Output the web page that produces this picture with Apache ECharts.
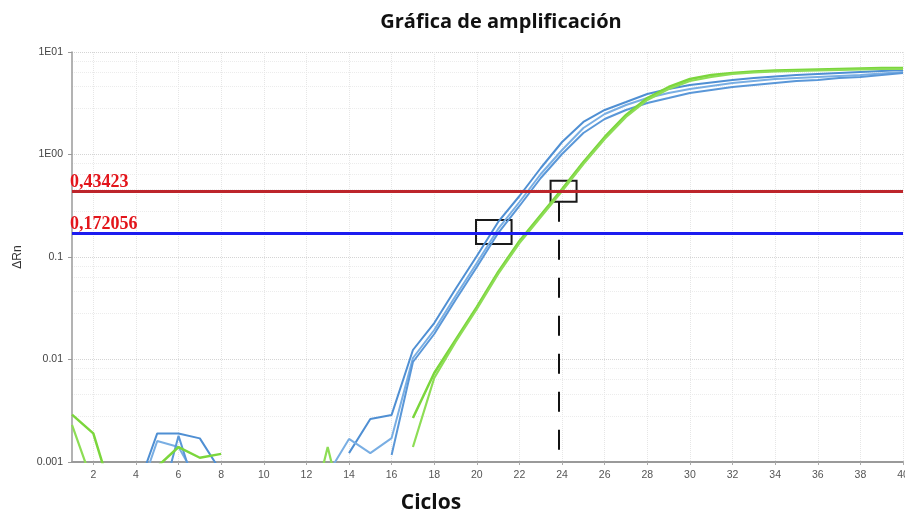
<!DOCTYPE html>
<html>
<head>
<meta charset="utf-8">
<script src="https://cdn.jsdelivr.net/npm/echarts@6/dist/echarts.min.js"></script>
<style>
  html, body { margin: 0; padding: 0; background: #ffffff; }
  #chart { width: 905px; height: 513px; }
</style>
</head>
<body>
<div id="chart"></div>
<script>
// Amplification plot (qPCR): ΔRn per cycle on a log scale.
const cycles = [1, 2, 3, 4, 5, 6, 7, 8, 9, 10, 11, 12, 13, 14, 15, 16, 17, 18, 19, 20,
                21, 22, 23, 24, 25, 26, 27, 28, 29, 30, 31, 32, 33, 34, 35, 36, 37, 38, 39, 40];

// Blue wells (earlier Ct)
const blueA = [null, null, null, 0.0005, 0.0019, 0.0019, 0.0017, 0.0008, null, null,
               null, null, null, 0.00122, 0.00263, 0.00288, 0.01238, 0.0227, 0.04873, 0.1023,
               0.2196, 0.3937, 0.7385, 1.324, 2.076, 2.718, 3.252, 3.893, 4.355, 4.764,
               5.04, 5.331, 5.576, 5.768, 5.965, 6.101, 6.239, 6.381, 6.525, 6.673];
const blueB = [null, null, null, 0.0004, 0.0016, 0.0014, 0.0006, null, null, null,
               null, null, 0.00076, 0.00168, 0.00122, 0.00171, 0.01034, 0.0194, 0.04164, 0.08737,
               0.1876, 0.344, 0.6453, 1.106, 1.814, 2.484, 3.04, 3.557, 3.981, 4.355,
               4.659, 4.984, 5.213, 5.453, 5.576, 5.703, 5.834, 5.965, 6.169, 6.381];
const blueC = [null, null, null, null, 0.0003, 0.0018, 0.0004, null, null, null,
               null, null, null, null, null, 0.00117, 0.00945, 0.01774, 0.03806, 0.07986,
               0.1714, 0.3145, 0.5899, 1.011, 1.621, 2.22, 2.718, 3.179, 3.557, 3.981,
               4.259, 4.555, 4.764, 4.984, 5.213, 5.331, 5.576, 5.703, 5.965, 6.239];

// Green wells (later Ct)
const greenA = [0.0029, 0.0019, 0.0004, 0.0005, 0.0009, 0.0014, 0.0011, 0.0012, null, null,
                null, null, null, null, null, null, 0.002687, 0.007385, 0.0155, 0.03252,
                0.07141, 0.1432, 0.2569, 0.4607, 0.8449, 1.482, 2.429, 3.557, 4.555, 5.453,
                5.965, 6.239, 6.453, 6.599, 6.673, 6.748, 6.824, 6.902, 6.979, 6.979];
const greenB = [0.0023, 0.0006, null, null, null, null, null, null, null, null,
                null, 0.0002, 0.0014, 0.0002, null, null, 0.0014, 0.006601, 0.01482, 0.0311,
                0.06826, 0.1369, 0.2455, 0.4405, 0.8078, 1.416, 2.322, 3.401, 4.355, 5.213,
                5.703, 6.101, 6.31, 6.453, 6.525, 6.599, 6.673, 6.748, 6.824, 6.824];

// Thresholds
const thresholdRed = 0.43423;
const thresholdBlue = 0.172056;

// Ct marker for the green wells and the highlighted crossings
const ctGreen = 23.85;
const boxBlue = { x: [19.96, 21.63], y: [0.2296, 0.1339] };
const boxRed = { x: [23.46, 24.68], y: [0.5551, 0.3463] };

const xTickLabels = [2, 4, 6, 8, 10, 12, 14, 16, 18, 20, 22, 24, 26, 28, 30, 32, 34, 36, 38, 40];
const yTickLabels = { '10': '1E01', '1': '1E00', '0.1': '0.1', '0.01': '0.01', '0.001': '0.001' };

function pts(vals) {
  return cycles.map((c, i) => [c, vals[i] == null ? '-' : vals[i]]);
}
function fmtComma(v) {
  return String(v).replace('.', ',');
}

function curve(name, vals, color, width) {
  return {
    name: name, type: 'line', data: pts(vals), showSymbol: false, smooth: false,
    clip: true, silent: true,
    lineStyle: { color: color, width: width }, z: 3
  };
}

const thresholdLabel = {
  show: true, position: 'insideStartTop', distance: [-2, 0],
  color: '#e3151b', fontFamily: 'Liberation Serif', fontWeight: 'bold', fontSize: 18,
  formatter: p => fmtComma(p.value)
};

const series = [
  curve('A1', blueA, '#4f8fd3', 2),
  curve('A2', blueB, '#79aee3', 2),
  curve('A3', blueC, '#5a97d8', 2),
  curve('B1', greenA, '#7bd63c', 2.5),
  curve('B2', greenB, '#8ddd55', 2.2),
  {
    name: 'marks', type: 'line', data: [], silent: true, z: 5,
    markLine: {
      symbol: ['none', 'none'], silent: true, animation: false, precision: 6,
      data: [
        { yAxis: thresholdRed, lineStyle: { color: '#bd252b', width: 3, type: 'solid' }, label: thresholdLabel },
        { yAxis: thresholdBlue, lineStyle: { color: '#1c1cf0', width: 3, type: 'solid' }, label: thresholdLabel },
        [
          { coord: [ctGreen, boxRed.y[1]], lineStyle: { color: '#111', width: 2, type: [20, 18] }, label: { show: false } },
          { coord: [ctGreen, 0.001] }
        ]
      ]
    },
    markArea: {
      silent: true,
      itemStyle: { color: 'rgba(0,0,0,0)', borderColor: '#1a1a1a', borderWidth: 2 },
      data: [
        [{ coord: [boxBlue.x[0], boxBlue.y[0]] }, { coord: [boxBlue.x[1], boxBlue.y[1]] }],
        [{ coord: [boxRed.x[0], boxRed.y[0]] }, { coord: [boxRed.x[1], boxRed.y[1]] }]
      ]
    }
  }
];

const chart = echarts.init(document.getElementById('chart'), null, { renderer: 'canvas' });
chart.setOption({
  animation: false,
  backgroundColor: '#ffffff',
  title: [
    { text: 'Gráfica de amplificación', left: 496, top: 7, textAlign: 'center',
      textStyle: { fontFamily: 'Open Sans', fontWeight: 'bold', fontSize: 20, color: '#111' } },
    { text: 'Ciclos', left: 426, top: 488, textAlign: 'center',
      textStyle: { fontFamily: 'Open Sans', fontWeight: 'bold', fontSize: 21, color: '#111' } }
  ],
  grid: { left: 72, right: 2, top: 52, bottom: 51, containLabel: false, outerBoundsMode: 'none' },
  xAxis: {
    type: 'value', min: 1, max: 40, interval: 1,
    axisLine: { show: true, lineStyle: { color: '#9a9a9a', width: 2 } },
    axisTick: { show: true, length: 3, customValues: xTickLabels, lineStyle: { color: '#aaa' } },
    axisLabel: { customValues: xTickLabels, margin: 8, fontSize: 10.5, color: '#555', fontFamily: 'Liberation Sans', hideOverlap: false },
    splitLine: { show: true, lineStyle: { color: '#e6e6e6', type: 'dotted', width: 1 } }
  },
  yAxis: {
    type: 'log', logBase: 10, min: 0.001, max: 10,
    name: 'ΔRn', nameLocation: 'middle', nameGap: 48, nameRotate: 90,
    nameTextStyle: { fontSize: 12, color: '#333', fontFamily: 'Liberation Sans' },
    axisLine: { show: true, lineStyle: { color: '#9a9a9a', width: 1.5 } },
    axisTick: { show: true, length: 4, lineStyle: { color: '#9a9a9a' } },
    axisLabel: {
      fontSize: 10.5, color: '#444', margin: 9, fontFamily: 'Liberation Sans',
      formatter: v => yTickLabels[String(+v.toPrecision(3))] || ''
    },
    minorTick: { show: false, splitNumber: 5 },
    splitLine: { show: true, lineStyle: { color: '#d4d4d4', type: 'dotted' } },
    minorSplitLine: { show: true, lineStyle: { color: '#ececec', type: 'dotted' } }
  },
  series: series
});
</script>
</body>
</html>
